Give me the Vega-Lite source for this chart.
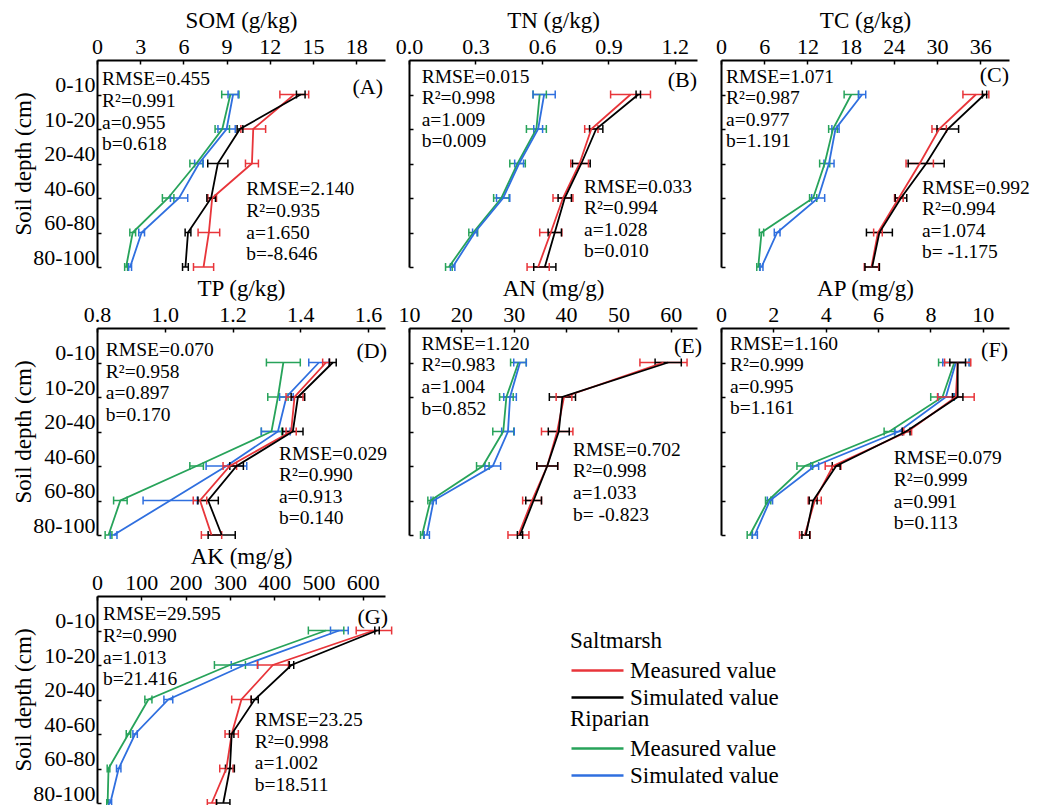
{
"$schema":"https://vega.github.io/schema/vega-lite/v6.json",
"padding":{"left":12,"top":9,"right":0,"bottom":0},
"columns":3,
"spacing":{"row":61,"column":24},
"bounds":"flush",
"datasets":{
"d":[
{"p":"SOM","s":"Riparian","t":"Measured value","i":0,"v":9.26,"lo":8.66,"hi":9.86},
{"p":"SOM","s":"Riparian","t":"Measured value","i":1,"v":8.7,"lo":8.2,"hi":9.2},
{"p":"SOM","s":"Riparian","t":"Measured value","i":2,"v":6.9,"lo":6.45,"hi":7.35},
{"p":"SOM","s":"Riparian","t":"Measured value","i":3,"v":4.94,"lo":4.54,"hi":5.34},
{"p":"SOM","s":"Riparian","t":"Measured value","i":4,"v":2.48,"lo":2.28,"hi":2.68},
{"p":"SOM","s":"Riparian","t":"Measured value","i":5,"v":2.02,"lo":1.92,"hi":2.12},
{"p":"SOM","s":"Riparian","t":"Simulated value","i":0,"v":9.45,"lo":9.1,"hi":9.8},
{"p":"SOM","s":"Riparian","t":"Simulated value","i":1,"v":9.0,"lo":8.4,"hi":9.6},
{"p":"SOM","s":"Riparian","t":"Simulated value","i":2,"v":7.08,"lo":6.78,"hi":7.38},
{"p":"SOM","s":"Riparian","t":"Simulated value","i":3,"v":5.7,"lo":5.1,"hi":6.3},
{"p":"SOM","s":"Riparian","t":"Simulated value","i":4,"v":3.1,"lo":2.9,"hi":3.3},
{"p":"SOM","s":"Riparian","t":"Simulated value","i":5,"v":2.3,"lo":2.2,"hi":2.4},
{"p":"SOM","s":"Saltmarsh","t":"Measured value","i":0,"v":13.7,"lo":12.7,"hi":14.7},
{"p":"SOM","s":"Saltmarsh","t":"Measured value","i":1,"v":10.85,"lo":9.99,"hi":11.71},
{"p":"SOM","s":"Saltmarsh","t":"Measured value","i":2,"v":10.76,"lo":10.31,"hi":11.21},
{"p":"SOM","s":"Saltmarsh","t":"Measured value","i":3,"v":8.0,"lo":7.7,"hi":8.3},
{"p":"SOM","s":"Saltmarsh","t":"Measured value","i":4,"v":7.77,"lo":7.02,"hi":8.52},
{"p":"SOM","s":"Saltmarsh","t":"Measured value","i":5,"v":7.4,"lo":6.7,"hi":8.1},
{"p":"SOM","s":"Saltmarsh","t":"Simulated value","i":0,"v":14.15,"lo":13.85,"hi":14.45},
{"p":"SOM","s":"Saltmarsh","t":"Simulated value","i":1,"v":9.93,"lo":9.73,"hi":10.13},
{"p":"SOM","s":"Saltmarsh","t":"Simulated value","i":2,"v":8.39,"lo":7.69,"hi":9.09},
{"p":"SOM","s":"Saltmarsh","t":"Simulated value","i":3,"v":7.93,"lo":7.63,"hi":8.23},
{"p":"SOM","s":"Saltmarsh","t":"Simulated value","i":4,"v":6.32,"lo":6.12,"hi":6.52},
{"p":"SOM","s":"Saltmarsh","t":"Simulated value","i":5,"v":6.14,"lo":5.94,"hi":6.34},
{"p":"TN","s":"Riparian","t":"Measured value","i":0,"v":0.59,"lo":0.56,"hi":0.62},
{"p":"TN","s":"Riparian","t":"Measured value","i":1,"v":0.575,"lo":0.53,"hi":0.62},
{"p":"TN","s":"Riparian","t":"Measured value","i":2,"v":0.49,"lo":0.455,"hi":0.525},
{"p":"TN","s":"Riparian","t":"Measured value","i":3,"v":0.417,"lo":0.382,"hi":0.452},
{"p":"TN","s":"Riparian","t":"Measured value","i":4,"v":0.29,"lo":0.27,"hi":0.31},
{"p":"TN","s":"Riparian","t":"Measured value","i":5,"v":0.18,"lo":0.165,"hi":0.195},
{"p":"TN","s":"Riparian","t":"Simulated value","i":0,"v":0.61,"lo":0.56,"hi":0.66},
{"p":"TN","s":"Riparian","t":"Simulated value","i":1,"v":0.583,"lo":0.563,"hi":0.603},
{"p":"TN","s":"Riparian","t":"Simulated value","i":2,"v":0.497,"lo":0.477,"hi":0.517},
{"p":"TN","s":"Riparian","t":"Simulated value","i":3,"v":0.425,"lo":0.395,"hi":0.455},
{"p":"TN","s":"Riparian","t":"Simulated value","i":4,"v":0.297,"lo":0.287,"hi":0.307},
{"p":"TN","s":"Riparian","t":"Simulated value","i":5,"v":0.197,"lo":0.187,"hi":0.207},
{"p":"TN","s":"Saltmarsh","t":"Measured value","i":0,"v":1.0,"lo":0.91,"hi":1.09},
{"p":"TN","s":"Saltmarsh","t":"Measured value","i":1,"v":0.823,"lo":0.793,"hi":0.853},
{"p":"TN","s":"Saltmarsh","t":"Measured value","i":2,"v":0.77,"lo":0.73,"hi":0.81},
{"p":"TN","s":"Saltmarsh","t":"Measured value","i":3,"v":0.695,"lo":0.65,"hi":0.74},
{"p":"TN","s":"Saltmarsh","t":"Measured value","i":4,"v":0.64,"lo":0.59,"hi":0.69},
{"p":"TN","s":"Saltmarsh","t":"Measured value","i":5,"v":0.583,"lo":0.533,"hi":0.633},
{"p":"TN","s":"Saltmarsh","t":"Simulated value","i":0,"v":1.035,"lo":1.025,"hi":1.045},
{"p":"TN","s":"Saltmarsh","t":"Simulated value","i":1,"v":0.845,"lo":0.815,"hi":0.875},
{"p":"TN","s":"Saltmarsh","t":"Simulated value","i":2,"v":0.778,"lo":0.738,"hi":0.818},
{"p":"TN","s":"Saltmarsh","t":"Simulated value","i":3,"v":0.703,"lo":0.673,"hi":0.733},
{"p":"TN","s":"Saltmarsh","t":"Simulated value","i":4,"v":0.658,"lo":0.628,"hi":0.688},
{"p":"TN","s":"Saltmarsh","t":"Simulated value","i":5,"v":0.613,"lo":0.563,"hi":0.663},
{"p":"TC","s":"Riparian","t":"Measured value","i":0,"v":18.1,"lo":17.1,"hi":19.1},
{"p":"TC","s":"Riparian","t":"Measured value","i":1,"v":15.55,"lo":14.95,"hi":16.15},
{"p":"TC","s":"Riparian","t":"Measured value","i":2,"v":14.4,"lo":13.7,"hi":15.1},
{"p":"TC","s":"Riparian","t":"Measured value","i":3,"v":12.8,"lo":12.3,"hi":13.3},
{"p":"TC","s":"Riparian","t":"Measured value","i":4,"v":5.63,"lo":5.33,"hi":5.93},
{"p":"TC","s":"Riparian","t":"Measured value","i":5,"v":5.17,"lo":4.97,"hi":5.37},
{"p":"TC","s":"Riparian","t":"Simulated value","i":0,"v":19.6,"lo":19.1,"hi":20.1},
{"p":"TC","s":"Riparian","t":"Simulated value","i":1,"v":15.9,"lo":15.4,"hi":16.4},
{"p":"TC","s":"Riparian","t":"Simulated value","i":2,"v":15.0,"lo":14.3,"hi":15.7},
{"p":"TC","s":"Riparian","t":"Simulated value","i":3,"v":13.5,"lo":12.6,"hi":14.4},
{"p":"TC","s":"Riparian","t":"Simulated value","i":4,"v":7.8,"lo":7.4,"hi":8.2},
{"p":"TC","s":"Riparian","t":"Simulated value","i":5,"v":5.63,"lo":5.43,"hi":5.83},
{"p":"TC","s":"Saltmarsh","t":"Measured value","i":0,"v":35.4,"lo":33.6,"hi":37.2},
{"p":"TC","s":"Saltmarsh","t":"Measured value","i":1,"v":30.3,"lo":29.3,"hi":31.3},
{"p":"TC","s":"Saltmarsh","t":"Measured value","i":2,"v":27.6,"lo":25.7,"hi":29.5},
{"p":"TC","s":"Saltmarsh","t":"Measured value","i":3,"v":24.7,"lo":24.1,"hi":25.3},
{"p":"TC","s":"Saltmarsh","t":"Measured value","i":4,"v":21.8,"lo":21.2,"hi":22.4},
{"p":"TC","s":"Saltmarsh","t":"Measured value","i":5,"v":20.9,"lo":19.9,"hi":21.9},
{"p":"TC","s":"Saltmarsh","t":"Simulated value","i":0,"v":36.6,"lo":36.3,"hi":36.9},
{"p":"TC","s":"Saltmarsh","t":"Simulated value","i":1,"v":31.5,"lo":30.0,"hi":33.0},
{"p":"TC","s":"Saltmarsh","t":"Simulated value","i":2,"v":28.5,"lo":26.0,"hi":31.0},
{"p":"TC","s":"Saltmarsh","t":"Simulated value","i":3,"v":25.0,"lo":24.2,"hi":25.8},
{"p":"TC","s":"Saltmarsh","t":"Simulated value","i":4,"v":22.0,"lo":20.2,"hi":23.8},
{"p":"TC","s":"Saltmarsh","t":"Simulated value","i":5,"v":21.0,"lo":20.0,"hi":22.0},
{"p":"TP","s":"Riparian","t":"Measured value","i":0,"v":1.35,"lo":1.3,"hi":1.4},
{"p":"TP","s":"Riparian","t":"Measured value","i":1,"v":1.334,"lo":1.304,"hi":1.364},
{"p":"TP","s":"Riparian","t":"Measured value","i":2,"v":1.315,"lo":1.285,"hi":1.345},
{"p":"TP","s":"Riparian","t":"Measured value","i":3,"v":1.094,"lo":1.074,"hi":1.114},
{"p":"TP","s":"Riparian","t":"Measured value","i":4,"v":0.869,"lo":0.849,"hi":0.889},
{"p":"TP","s":"Riparian","t":"Measured value","i":5,"v":0.834,"lo":0.824,"hi":0.844},
{"p":"TP","s":"Riparian","t":"Simulated value","i":0,"v":1.455,"lo":1.425,"hi":1.485},
{"p":"TP","s":"Riparian","t":"Simulated value","i":1,"v":1.359,"lo":1.339,"hi":1.379},
{"p":"TP","s":"Riparian","t":"Simulated value","i":2,"v":1.334,"lo":1.285,"hi":1.37},
{"p":"TP","s":"Riparian","t":"Simulated value","i":3,"v":1.182,"lo":1.122,"hi":1.242},
{"p":"TP","s":"Riparian","t":"Simulated value","i":4,"v":1.016,"lo":0.936,"hi":1.096},
{"p":"TP","s":"Riparian","t":"Simulated value","i":5,"v":0.849,"lo":0.839,"hi":0.859},
{"p":"TP","s":"Saltmarsh","t":"Measured value","i":0,"v":1.476,"lo":1.466,"hi":1.486},
{"p":"TP","s":"Saltmarsh","t":"Measured value","i":1,"v":1.383,"lo":1.358,"hi":1.408},
{"p":"TP","s":"Saltmarsh","t":"Measured value","i":2,"v":1.373,"lo":1.358,"hi":1.388},
{"p":"TP","s":"Saltmarsh","t":"Measured value","i":3,"v":1.192,"lo":1.172,"hi":1.212},
{"p":"TP","s":"Saltmarsh","t":"Measured value","i":4,"v":1.104,"lo":1.084,"hi":1.124},
{"p":"TP","s":"Saltmarsh","t":"Measured value","i":5,"v":1.138,"lo":1.108,"hi":1.168},
{"p":"TP","s":"Saltmarsh","t":"Simulated value","i":0,"v":1.496,"lo":1.486,"hi":1.506},
{"p":"TP","s":"Saltmarsh","t":"Simulated value","i":1,"v":1.393,"lo":1.373,"hi":1.413},
{"p":"TP","s":"Saltmarsh","t":"Simulated value","i":2,"v":1.378,"lo":1.348,"hi":1.408},
{"p":"TP","s":"Saltmarsh","t":"Simulated value","i":3,"v":1.212,"lo":1.192,"hi":1.232},
{"p":"TP","s":"Saltmarsh","t":"Simulated value","i":4,"v":1.128,"lo":1.098,"hi":1.158},
{"p":"TP","s":"Saltmarsh","t":"Simulated value","i":5,"v":1.168,"lo":1.128,"hi":1.208},
{"p":"AN","s":"Riparian","t":"Measured value","i":0,"v":30.9,"lo":29.4,"hi":32.4},
{"p":"AN","s":"Riparian","t":"Measured value","i":1,"v":28.6,"lo":27.3,"hi":29.9},
{"p":"AN","s":"Riparian","t":"Measured value","i":2,"v":28.0,"lo":26.0,"hi":30.0},
{"p":"AN","s":"Riparian","t":"Measured value","i":3,"v":24.1,"lo":22.9,"hi":25.3},
{"p":"AN","s":"Riparian","t":"Measured value","i":4,"v":14.1,"lo":13.6,"hi":14.6},
{"p":"AN","s":"Riparian","t":"Measured value","i":5,"v":12.5,"lo":12.2,"hi":12.8},
{"p":"AN","s":"Riparian","t":"Simulated value","i":0,"v":31.2,"lo":30.0,"hi":32.4},
{"p":"AN","s":"Riparian","t":"Simulated value","i":1,"v":29.3,"lo":28.1,"hi":30.5},
{"p":"AN","s":"Riparian","t":"Simulated value","i":2,"v":28.9,"lo":27.7,"hi":30.1},
{"p":"AN","s":"Riparian","t":"Simulated value","i":3,"v":26.0,"lo":24.5,"hi":27.5},
{"p":"AN","s":"Riparian","t":"Simulated value","i":4,"v":14.7,"lo":14.2,"hi":15.2},
{"p":"AN","s":"Riparian","t":"Simulated value","i":5,"v":13.4,"lo":12.9,"hi":13.9},
{"p":"AN","s":"Saltmarsh","t":"Measured value","i":0,"v":58.6,"lo":54.1,"hi":63.1},
{"p":"AN","s":"Saltmarsh","t":"Measured value","i":1,"v":39.6,"lo":38.1,"hi":41.1},
{"p":"AN","s":"Saltmarsh","t":"Measured value","i":2,"v":38.3,"lo":35.3,"hi":41.3},
{"p":"AN","s":"Saltmarsh","t":"Measured value","i":3,"v":36.4,"lo":34.4,"hi":38.4},
{"p":"AN","s":"Saltmarsh","t":"Measured value","i":4,"v":33.5,"lo":31.7,"hi":35.3},
{"p":"AN","s":"Saltmarsh","t":"Measured value","i":5,"v":30.9,"lo":28.9,"hi":32.9},
{"p":"AN","s":"Saltmarsh","t":"Simulated value","i":0,"v":59.5,"lo":57.0,"hi":62.0},
{"p":"AN","s":"Saltmarsh","t":"Simulated value","i":1,"v":39.3,"lo":36.8,"hi":41.8},
{"p":"AN","s":"Saltmarsh","t":"Simulated value","i":2,"v":38.6,"lo":36.6,"hi":40.6},
{"p":"AN","s":"Saltmarsh","t":"Simulated value","i":3,"v":36.4,"lo":34.4,"hi":38.4},
{"p":"AN","s":"Saltmarsh","t":"Simulated value","i":4,"v":33.8,"lo":32.3,"hi":35.3},
{"p":"AN","s":"Saltmarsh","t":"Simulated value","i":5,"v":31.2,"lo":30.7,"hi":31.7},
{"p":"AP","s":"Riparian","t":"Measured value","i":0,"v":8.91,"lo":8.31,"hi":9.51},
{"p":"AP","s":"Riparian","t":"Measured value","i":1,"v":8.46,"lo":8.01,"hi":8.91},
{"p":"AP","s":"Riparian","t":"Measured value","i":2,"v":6.43,"lo":6.23,"hi":6.63},
{"p":"AP","s":"Riparian","t":"Measured value","i":3,"v":3.2,"lo":2.9,"hi":3.5},
{"p":"AP","s":"Riparian","t":"Measured value","i":4,"v":1.8,"lo":1.7,"hi":1.9},
{"p":"AP","s":"Riparian","t":"Measured value","i":5,"v":1.1,"lo":1.0,"hi":1.2},
{"p":"AP","s":"Riparian","t":"Simulated value","i":0,"v":8.97,"lo":8.47,"hi":9.47},
{"p":"AP","s":"Riparian","t":"Simulated value","i":1,"v":8.59,"lo":8.29,"hi":8.89},
{"p":"AP","s":"Riparian","t":"Simulated value","i":2,"v":6.79,"lo":6.64,"hi":6.94},
{"p":"AP","s":"Riparian","t":"Simulated value","i":3,"v":3.58,"lo":3.43,"hi":3.73},
{"p":"AP","s":"Riparian","t":"Simulated value","i":4,"v":1.87,"lo":1.77,"hi":1.97},
{"p":"AP","s":"Riparian","t":"Simulated value","i":5,"v":1.29,"lo":1.19,"hi":1.39},
{"p":"AP","s":"Saltmarsh","t":"Measured value","i":0,"v":9.04,"lo":8.54,"hi":9.54},
{"p":"AP","s":"Saltmarsh","t":"Measured value","i":1,"v":8.97,"lo":8.27,"hi":9.67},
{"p":"AP","s":"Saltmarsh","t":"Measured value","i":2,"v":7.13,"lo":6.98,"hi":7.28},
{"p":"AP","s":"Saltmarsh","t":"Measured value","i":3,"v":4.28,"lo":3.98,"hi":4.58},
{"p":"AP","s":"Saltmarsh","t":"Measured value","i":4,"v":3.58,"lo":3.33,"hi":3.83},
{"p":"AP","s":"Saltmarsh","t":"Measured value","i":5,"v":3.2,"lo":3.0,"hi":3.4},
{"p":"AP","s":"Saltmarsh","t":"Simulated value","i":0,"v":9.04,"lo":8.74,"hi":9.34},
{"p":"AP","s":"Saltmarsh","t":"Simulated value","i":1,"v":9.04,"lo":8.84,"hi":9.24},
{"p":"AP","s":"Saltmarsh","t":"Simulated value","i":2,"v":7.07,"lo":6.92,"hi":7.22},
{"p":"AP","s":"Saltmarsh","t":"Simulated value","i":3,"v":4.4,"lo":4.25,"hi":4.55},
{"p":"AP","s":"Saltmarsh","t":"Simulated value","i":4,"v":3.52,"lo":3.37,"hi":3.67},
{"p":"AP","s":"Saltmarsh","t":"Simulated value","i":5,"v":3.24,"lo":3.09,"hi":3.39},
{"p":"AK","s":"Riparian","t":"Measured value","i":0,"v":517,"lo":477,"hi":557},
{"p":"AK","s":"Riparian","t":"Measured value","i":1,"v":300,"lo":265,"hi":335},
{"p":"AK","s":"Riparian","t":"Measured value","i":2,"v":116,"lo":108,"hi":124},
{"p":"AK","s":"Riparian","t":"Measured value","i":3,"v":71,"lo":66,"hi":76},
{"p":"AK","s":"Riparian","t":"Measured value","i":4,"v":26,"lo":23,"hi":29},
{"p":"AK","s":"Riparian","t":"Measured value","i":5,"v":24,"lo":22,"hi":26},
{"p":"AK","s":"Riparian","t":"Simulated value","i":0,"v":547,"lo":527,"hi":567},
{"p":"AK","s":"Riparian","t":"Simulated value","i":1,"v":333,"lo":303,"hi":363},
{"p":"AK","s":"Riparian","t":"Simulated value","i":2,"v":161,"lo":151,"hi":171},
{"p":"AK","s":"Riparian","t":"Simulated value","i":3,"v":86,"lo":81,"hi":91},
{"p":"AK","s":"Riparian","t":"Simulated value","i":4,"v":49,"lo":44,"hi":54},
{"p":"AK","s":"Riparian","t":"Simulated value","i":5,"v":30,"lo":27,"hi":33},
{"p":"AK","s":"Saltmarsh","t":"Measured value","i":0,"v":625,"lo":585,"hi":665},
{"p":"AK","s":"Saltmarsh","t":"Measured value","i":1,"v":397,"lo":362,"hi":432},
{"p":"AK","s":"Saltmarsh","t":"Measured value","i":2,"v":326,"lo":304,"hi":348},
{"p":"AK","s":"Saltmarsh","t":"Measured value","i":3,"v":304,"lo":289,"hi":319},
{"p":"AK","s":"Saltmarsh","t":"Measured value","i":4,"v":292,"lo":277,"hi":307},
{"p":"AK","s":"Saltmarsh","t":"Measured value","i":5,"v":259,"lo":249,"hi":269},
{"p":"AK","s":"Saltmarsh","t":"Simulated value","i":0,"v":632,"lo":627,"hi":637},
{"p":"AK","s":"Saltmarsh","t":"Simulated value","i":1,"v":439,"lo":434,"hi":444},
{"p":"AK","s":"Saltmarsh","t":"Simulated value","i":2,"v":356,"lo":348,"hi":364},
{"p":"AK","s":"Saltmarsh","t":"Simulated value","i":3,"v":304,"lo":299,"hi":309},
{"p":"AK","s":"Saltmarsh","t":"Simulated value","i":4,"v":300,"lo":290,"hi":310},
{"p":"AK","s":"Saltmarsh","t":"Simulated value","i":5,"v":285,"lo":270,"hi":300}
]
},
"concat":[
{"width":288,"height":207,"data":{"name":"d"},"transform":[{"filter":"datum.p==='SOM'"}],
"encoding":{"y":{"field":"i","type":"quantitative","scale":{"domain":[-1,5],"reverse":true,"nice":false,"zero":false},"axis":{"values":[0,1,2,3,4,5],"labelExpr":"['0-10','10-20','20-40','40-60','60-80','80-100'][datum.value]","title":"Soil depth (cm)","labelOffset":-10}},
"x":{"field":"v","type":"quantitative","scale":{"domain":[0,20],"nice":false,"zero":false},"axis":{"orient":"top","values":[0,3,6,9,12,15,18],"format":"d","title":"SOM (g/kg)"}}},
"layer":[
{"transform":[{"filter":"datum.s==='Riparian'"}],"mark":{"type":"rule","strokeWidth":1.5},"encoding":{"x":{"field":"lo","type":"quantitative","scale":{"domain":[0,20],"nice":false,"zero":false},"axis":{"orient":"top","values":[0,3,6,9,12,15,18],"format":"d","title":"SOM (g/kg)"}},"x2":{"field":"hi"},"color":{"field":"t","type":"nominal","scale":{"domain":["Simulated value","Measured value"],"range":["#2f6fdf","#27a35a"]},"legend":{"title":"Riparian","values":["Measured value","Simulated value"],"orient":"none","legendX":473,"legendY":648,"symbolType":"M-1,0H3"}}}},
{"transform":[{"filter":"datum.s==='Riparian'"},{"fold":["lo","hi"],"as":["end","xv"]}],"mark":{"type":"point","shape":"M0,-1V1","filled":false,"size":64,"strokeWidth":1.5,"opacity":1},"encoding":{"x":{"field":"xv","type":"quantitative","scale":{"domain":[0,20],"nice":false,"zero":false},"axis":{"orient":"top","values":[0,3,6,9,12,15,18],"format":"d","title":"SOM (g/kg)"}},"color":{"field":"t","type":"nominal","scale":{"domain":["Simulated value","Measured value"],"range":["#2f6fdf","#27a35a"]},"legend":{"title":"Riparian","values":["Measured value","Simulated value"],"orient":"none","legendX":473,"legendY":648,"symbolType":"M-1,0H3"}}}},
{"transform":[{"filter":"datum.s==='Riparian'"}],"mark":{"type":"line","strokeWidth":1.8},"encoding":{"order":{"field":"i","type":"quantitative"},"color":{"field":"t","type":"nominal","scale":{"domain":["Simulated value","Measured value"],"range":["#2f6fdf","#27a35a"]},"legend":{"title":"Riparian","values":["Measured value","Simulated value"],"orient":"none","legendX":473,"legendY":648,"symbolType":"M-1,0H3"}}}},
{"transform":[{"filter":"datum.s==='Saltmarsh'"}],"mark":{"type":"rule","strokeWidth":1.5},"encoding":{"x":{"field":"lo","type":"quantitative","scale":{"domain":[0,20],"nice":false,"zero":false},"axis":{"orient":"top","values":[0,3,6,9,12,15,18],"format":"d","title":"SOM (g/kg)"}},"x2":{"field":"hi"},"stroke":{"field":"t","type":"nominal","scale":{"domain":["Measured value","Simulated value"],"range":["#e8353a","#000000"]},"legend":{"title":"Saltmarsh","values":["Measured value","Simulated value"],"orient":"none","legendX":473,"legendY":570,"symbolType":"M-1,0H3"}}}},
{"transform":[{"filter":"datum.s==='Saltmarsh'"},{"fold":["lo","hi"],"as":["end","xv"]}],"mark":{"type":"point","shape":"M0,-1V1","filled":false,"size":64,"strokeWidth":1.5,"opacity":1},"encoding":{"x":{"field":"xv","type":"quantitative","scale":{"domain":[0,20],"nice":false,"zero":false},"axis":{"orient":"top","values":[0,3,6,9,12,15,18],"format":"d","title":"SOM (g/kg)"}},"stroke":{"field":"t","type":"nominal","scale":{"domain":["Measured value","Simulated value"],"range":["#e8353a","#000000"]},"legend":{"title":"Saltmarsh","values":["Measured value","Simulated value"],"orient":"none","legendX":473,"legendY":570,"symbolType":"M-1,0H3"}}}},
{"transform":[{"filter":"datum.s==='Saltmarsh'"}],"mark":{"type":"line","strokeWidth":1.8},"encoding":{"order":{"field":"i","type":"quantitative"},"stroke":{"field":"t","type":"nominal","scale":{"domain":["Measured value","Simulated value"],"range":["#e8353a","#000000"]},"legend":{"title":"Saltmarsh","values":["Measured value","Simulated value"],"orient":"none","legendX":473,"legendY":570,"symbolType":"M-1,0H3"}}}},
{"transform":[{"filter":"datum.s==='Saltmarsh' && datum.t==='Measured value' && datum.i===0"}],"mark":{"type":"text","align":"left","baseline":"top","lineHeight":21.6},"encoding":{"x":{"datum":0.35,"type":"quantitative","scale":{"domain":[0,20],"nice":false,"zero":false},"axis":{"orient":"top","values":[0,3,6,9,12,15,18],"format":"d","title":"SOM (g/kg)"}},"y":{"datum":-0.7,"type":"quantitative","scale":{"domain":[-1,5],"reverse":true,"nice":false,"zero":false},"axis":{"values":[0,1,2,3,4,5],"labelExpr":"['0-10','10-20','20-40','40-60','60-80','80-100'][datum.value]","title":"Soil depth (cm)","labelOffset":-10}},"text":{"value":["RMSE=0.455","R²=0.991","a=0.955","b=0.618"]}}},
{"transform":[{"filter":"datum.s==='Saltmarsh' && datum.t==='Measured value' && datum.i===0"}],"mark":{"type":"text","align":"left","baseline":"top","lineHeight":21.6},"encoding":{"x":{"datum":10.37,"type":"quantitative","scale":{"domain":[0,20],"nice":false,"zero":false},"axis":{"orient":"top","values":[0,3,6,9,12,15,18],"format":"d","title":"SOM (g/kg)"}},"y":{"datum":2.49,"type":"quantitative","scale":{"domain":[-1,5],"reverse":true,"nice":false,"zero":false},"axis":{"values":[0,1,2,3,4,5],"labelExpr":"['0-10','10-20','20-40','40-60','60-80','80-100'][datum.value]","title":"Soil depth (cm)","labelOffset":-10}},"text":{"value":["RMSE=2.140","R²=0.935","a=1.650","b=-8.646"]}}},
{"transform":[{"filter":"datum.s==='Saltmarsh' && datum.t==='Measured value' && datum.i===0"}],"mark":{"type":"text","align":"right","baseline":"middle","dx":-2,"fontSize":22},"encoding":{"x":{"datum":20,"type":"quantitative","scale":{"domain":[0,20],"nice":false,"zero":false},"axis":{"orient":"top","values":[0,3,6,9,12,15,18],"format":"d","title":"SOM (g/kg)"}},"y":{"datum":-0.23,"type":"quantitative","scale":{"domain":[-1,5],"reverse":true,"nice":false,"zero":false},"axis":{"values":[0,1,2,3,4,5],"labelExpr":"['0-10','10-20','20-40','40-60','60-80','80-100'][datum.value]","title":"Soil depth (cm)","labelOffset":-10}},"text":{"value":"(A)"}}}
]},
{"width":288,"height":207,"data":{"name":"d"},"transform":[{"filter":"datum.p==='TN'"}],
"encoding":{"y":{"field":"i","type":"quantitative","scale":{"domain":[-1,5],"reverse":true,"nice":false,"zero":false},"axis":{"values":[0,1,2,3,4,5],"labels":false,"title":null}},
"x":{"field":"v","type":"quantitative","scale":{"domain":[0,1.3],"nice":false,"zero":false},"axis":{"orient":"top","values":[0,0.3,0.6,0.9,1.2],"format":".1f","title":"TN (g/kg)"}}},
"layer":[
{"transform":[{"filter":"datum.s==='Riparian'"}],"mark":{"type":"rule","strokeWidth":1.5},"encoding":{"x":{"field":"lo","type":"quantitative","scale":{"domain":[0,1.3],"nice":false,"zero":false},"axis":{"orient":"top","values":[0,0.3,0.6,0.9,1.2],"format":".1f","title":"TN (g/kg)"}},"x2":{"field":"hi"},"color":{"field":"t","type":"nominal","scale":{"domain":["Simulated value","Measured value"],"range":["#2f6fdf","#27a35a"]},"legend":{"title":"Riparian","values":["Measured value","Simulated value"],"orient":"none","legendX":473,"legendY":648,"symbolType":"M-1,0H3"}}}},
{"transform":[{"filter":"datum.s==='Riparian'"},{"fold":["lo","hi"],"as":["end","xv"]}],"mark":{"type":"point","shape":"M0,-1V1","filled":false,"size":64,"strokeWidth":1.5,"opacity":1},"encoding":{"x":{"field":"xv","type":"quantitative","scale":{"domain":[0,1.3],"nice":false,"zero":false},"axis":{"orient":"top","values":[0,0.3,0.6,0.9,1.2],"format":".1f","title":"TN (g/kg)"}},"color":{"field":"t","type":"nominal","scale":{"domain":["Simulated value","Measured value"],"range":["#2f6fdf","#27a35a"]},"legend":{"title":"Riparian","values":["Measured value","Simulated value"],"orient":"none","legendX":473,"legendY":648,"symbolType":"M-1,0H3"}}}},
{"transform":[{"filter":"datum.s==='Riparian'"}],"mark":{"type":"line","strokeWidth":1.8},"encoding":{"order":{"field":"i","type":"quantitative"},"color":{"field":"t","type":"nominal","scale":{"domain":["Simulated value","Measured value"],"range":["#2f6fdf","#27a35a"]},"legend":{"title":"Riparian","values":["Measured value","Simulated value"],"orient":"none","legendX":473,"legendY":648,"symbolType":"M-1,0H3"}}}},
{"transform":[{"filter":"datum.s==='Saltmarsh'"}],"mark":{"type":"rule","strokeWidth":1.5},"encoding":{"x":{"field":"lo","type":"quantitative","scale":{"domain":[0,1.3],"nice":false,"zero":false},"axis":{"orient":"top","values":[0,0.3,0.6,0.9,1.2],"format":".1f","title":"TN (g/kg)"}},"x2":{"field":"hi"},"stroke":{"field":"t","type":"nominal","scale":{"domain":["Measured value","Simulated value"],"range":["#e8353a","#000000"]},"legend":{"title":"Saltmarsh","values":["Measured value","Simulated value"],"orient":"none","legendX":473,"legendY":570,"symbolType":"M-1,0H3"}}}},
{"transform":[{"filter":"datum.s==='Saltmarsh'"},{"fold":["lo","hi"],"as":["end","xv"]}],"mark":{"type":"point","shape":"M0,-1V1","filled":false,"size":64,"strokeWidth":1.5,"opacity":1},"encoding":{"x":{"field":"xv","type":"quantitative","scale":{"domain":[0,1.3],"nice":false,"zero":false},"axis":{"orient":"top","values":[0,0.3,0.6,0.9,1.2],"format":".1f","title":"TN (g/kg)"}},"stroke":{"field":"t","type":"nominal","scale":{"domain":["Measured value","Simulated value"],"range":["#e8353a","#000000"]},"legend":{"title":"Saltmarsh","values":["Measured value","Simulated value"],"orient":"none","legendX":473,"legendY":570,"symbolType":"M-1,0H3"}}}},
{"transform":[{"filter":"datum.s==='Saltmarsh'"}],"mark":{"type":"line","strokeWidth":1.8},"encoding":{"order":{"field":"i","type":"quantitative"},"stroke":{"field":"t","type":"nominal","scale":{"domain":["Measured value","Simulated value"],"range":["#e8353a","#000000"]},"legend":{"title":"Saltmarsh","values":["Measured value","Simulated value"],"orient":"none","legendX":473,"legendY":570,"symbolType":"M-1,0H3"}}}},
{"transform":[{"filter":"datum.s==='Saltmarsh' && datum.t==='Measured value' && datum.i===0"}],"mark":{"type":"text","align":"left","baseline":"top","lineHeight":21.6},"encoding":{"x":{"datum":0.057,"type":"quantitative","scale":{"domain":[0,1.3],"nice":false,"zero":false},"axis":{"orient":"top","values":[0,0.3,0.6,0.9,1.2],"format":".1f","title":"TN (g/kg)"}},"y":{"datum":-0.78,"type":"quantitative","scale":{"domain":[-1,5],"reverse":true,"nice":false,"zero":false},"axis":{"values":[0,1,2,3,4,5],"labels":false,"title":null}},"text":{"value":["RMSE=0.015","R²=0.998","a=1.009","b=0.009"]}}},
{"transform":[{"filter":"datum.s==='Saltmarsh' && datum.t==='Measured value' && datum.i===0"}],"mark":{"type":"text","align":"left","baseline":"top","lineHeight":21.6},"encoding":{"x":{"datum":0.79,"type":"quantitative","scale":{"domain":[0,1.3],"nice":false,"zero":false},"axis":{"orient":"top","values":[0,0.3,0.6,0.9,1.2],"format":".1f","title":"TN (g/kg)"}},"y":{"datum":2.41,"type":"quantitative","scale":{"domain":[-1,5],"reverse":true,"nice":false,"zero":false},"axis":{"values":[0,1,2,3,4,5],"labels":false,"title":null}},"text":{"value":["RMSE=0.033","R²=0.994","a=1.028","b=0.010"]}}},
{"transform":[{"filter":"datum.s==='Saltmarsh' && datum.t==='Measured value' && datum.i===0"}],"mark":{"type":"text","align":"right","baseline":"middle","dx":0,"fontSize":22},"encoding":{"x":{"datum":1.3,"type":"quantitative","scale":{"domain":[0,1.3],"nice":false,"zero":false},"axis":{"orient":"top","values":[0,0.3,0.6,0.9,1.2],"format":".1f","title":"TN (g/kg)"}},"y":{"datum":-0.43,"type":"quantitative","scale":{"domain":[-1,5],"reverse":true,"nice":false,"zero":false},"axis":{"values":[0,1,2,3,4,5],"labels":false,"title":null}},"text":{"value":"(B)"}}}
]},
{"width":288,"height":207,"data":{"name":"d"},"transform":[{"filter":"datum.p==='TC'"}],
"encoding":{"y":{"field":"i","type":"quantitative","scale":{"domain":[-1,5],"reverse":true,"nice":false,"zero":false},"axis":{"values":[0,1,2,3,4,5],"labels":false,"title":null}},
"x":{"field":"v","type":"quantitative","scale":{"domain":[0,40],"nice":false,"zero":false},"axis":{"orient":"top","values":[0,6,12,18,24,30,36],"format":"d","title":"TC (g/kg)"}}},
"layer":[
{"transform":[{"filter":"datum.s==='Riparian'"}],"mark":{"type":"rule","strokeWidth":1.5},"encoding":{"x":{"field":"lo","type":"quantitative","scale":{"domain":[0,40],"nice":false,"zero":false},"axis":{"orient":"top","values":[0,6,12,18,24,30,36],"format":"d","title":"TC (g/kg)"}},"x2":{"field":"hi"},"color":{"field":"t","type":"nominal","scale":{"domain":["Simulated value","Measured value"],"range":["#2f6fdf","#27a35a"]},"legend":{"title":"Riparian","values":["Measured value","Simulated value"],"orient":"none","legendX":473,"legendY":648,"symbolType":"M-1,0H3"}}}},
{"transform":[{"filter":"datum.s==='Riparian'"},{"fold":["lo","hi"],"as":["end","xv"]}],"mark":{"type":"point","shape":"M0,-1V1","filled":false,"size":64,"strokeWidth":1.5,"opacity":1},"encoding":{"x":{"field":"xv","type":"quantitative","scale":{"domain":[0,40],"nice":false,"zero":false},"axis":{"orient":"top","values":[0,6,12,18,24,30,36],"format":"d","title":"TC (g/kg)"}},"color":{"field":"t","type":"nominal","scale":{"domain":["Simulated value","Measured value"],"range":["#2f6fdf","#27a35a"]},"legend":{"title":"Riparian","values":["Measured value","Simulated value"],"orient":"none","legendX":473,"legendY":648,"symbolType":"M-1,0H3"}}}},
{"transform":[{"filter":"datum.s==='Riparian'"}],"mark":{"type":"line","strokeWidth":1.8},"encoding":{"order":{"field":"i","type":"quantitative"},"color":{"field":"t","type":"nominal","scale":{"domain":["Simulated value","Measured value"],"range":["#2f6fdf","#27a35a"]},"legend":{"title":"Riparian","values":["Measured value","Simulated value"],"orient":"none","legendX":473,"legendY":648,"symbolType":"M-1,0H3"}}}},
{"transform":[{"filter":"datum.s==='Saltmarsh'"}],"mark":{"type":"rule","strokeWidth":1.5},"encoding":{"x":{"field":"lo","type":"quantitative","scale":{"domain":[0,40],"nice":false,"zero":false},"axis":{"orient":"top","values":[0,6,12,18,24,30,36],"format":"d","title":"TC (g/kg)"}},"x2":{"field":"hi"},"stroke":{"field":"t","type":"nominal","scale":{"domain":["Measured value","Simulated value"],"range":["#e8353a","#000000"]},"legend":{"title":"Saltmarsh","values":["Measured value","Simulated value"],"orient":"none","legendX":473,"legendY":570,"symbolType":"M-1,0H3"}}}},
{"transform":[{"filter":"datum.s==='Saltmarsh'"},{"fold":["lo","hi"],"as":["end","xv"]}],"mark":{"type":"point","shape":"M0,-1V1","filled":false,"size":64,"strokeWidth":1.5,"opacity":1},"encoding":{"x":{"field":"xv","type":"quantitative","scale":{"domain":[0,40],"nice":false,"zero":false},"axis":{"orient":"top","values":[0,6,12,18,24,30,36],"format":"d","title":"TC (g/kg)"}},"stroke":{"field":"t","type":"nominal","scale":{"domain":["Measured value","Simulated value"],"range":["#e8353a","#000000"]},"legend":{"title":"Saltmarsh","values":["Measured value","Simulated value"],"orient":"none","legendX":473,"legendY":570,"symbolType":"M-1,0H3"}}}},
{"transform":[{"filter":"datum.s==='Saltmarsh'"}],"mark":{"type":"line","strokeWidth":1.8},"encoding":{"order":{"field":"i","type":"quantitative"},"stroke":{"field":"t","type":"nominal","scale":{"domain":["Measured value","Simulated value"],"range":["#e8353a","#000000"]},"legend":{"title":"Saltmarsh","values":["Measured value","Simulated value"],"orient":"none","legendX":473,"legendY":570,"symbolType":"M-1,0H3"}}}},
{"transform":[{"filter":"datum.s==='Saltmarsh' && datum.t==='Measured value' && datum.i===0"}],"mark":{"type":"text","align":"left","baseline":"top","lineHeight":21.6},"encoding":{"x":{"datum":0.7,"type":"quantitative","scale":{"domain":[0,40],"nice":false,"zero":false},"axis":{"orient":"top","values":[0,6,12,18,24,30,36],"format":"d","title":"TC (g/kg)"}},"y":{"datum":-0.78,"type":"quantitative","scale":{"domain":[-1,5],"reverse":true,"nice":false,"zero":false},"axis":{"values":[0,1,2,3,4,5],"labels":false,"title":null}},"text":{"value":["RMSE=1.071","R²=0.987","a=0.977","b=1.191"]}}},
{"transform":[{"filter":"datum.s==='Saltmarsh' && datum.t==='Measured value' && datum.i===0"}],"mark":{"type":"text","align":"left","baseline":"top","lineHeight":21.6},"encoding":{"x":{"datum":27.9,"type":"quantitative","scale":{"domain":[0,40],"nice":false,"zero":false},"axis":{"orient":"top","values":[0,6,12,18,24,30,36],"format":"d","title":"TC (g/kg)"}},"y":{"datum":2.44,"type":"quantitative","scale":{"domain":[-1,5],"reverse":true,"nice":false,"zero":false},"axis":{"values":[0,1,2,3,4,5],"labels":false,"title":null}},"text":{"value":["RMSE=0.992","R²=0.994","a=1.074","b= -1.175"]}}},
{"transform":[{"filter":"datum.s==='Saltmarsh' && datum.t==='Measured value' && datum.i===0"}],"mark":{"type":"text","align":"right","baseline":"middle","dx":0,"fontSize":22},"encoding":{"x":{"datum":40,"type":"quantitative","scale":{"domain":[0,40],"nice":false,"zero":false},"axis":{"orient":"top","values":[0,6,12,18,24,30,36],"format":"d","title":"TC (g/kg)"}},"y":{"datum":-0.57,"type":"quantitative","scale":{"domain":[-1,5],"reverse":true,"nice":false,"zero":false},"axis":{"values":[0,1,2,3,4,5],"labels":false,"title":null}},"text":{"value":"(C)"}}}
]},
{"width":288,"height":207,"data":{"name":"d"},"transform":[{"filter":"datum.p==='TP'"}],
"encoding":{"y":{"field":"i","type":"quantitative","scale":{"domain":[-1,5],"reverse":true,"nice":false,"zero":false},"axis":{"values":[0,1,2,3,4,5],"labelExpr":"['0-10','10-20','20-40','40-60','60-80','80-100'][datum.value]","title":"Soil depth (cm)","labelOffset":-10}},
"x":{"field":"v","type":"quantitative","scale":{"domain":[0.8,1.65],"nice":false,"zero":false},"axis":{"orient":"top","values":[0.8,1.0,1.2,1.4,1.6],"format":".1f","title":"TP (g/kg)"}}},
"layer":[
{"transform":[{"filter":"datum.s==='Riparian'"}],"mark":{"type":"rule","strokeWidth":1.5},"encoding":{"x":{"field":"lo","type":"quantitative","scale":{"domain":[0.8,1.65],"nice":false,"zero":false},"axis":{"orient":"top","values":[0.8,1.0,1.2,1.4,1.6],"format":".1f","title":"TP (g/kg)"}},"x2":{"field":"hi"},"color":{"field":"t","type":"nominal","scale":{"domain":["Simulated value","Measured value"],"range":["#2f6fdf","#27a35a"]},"legend":{"title":"Riparian","values":["Measured value","Simulated value"],"orient":"none","legendX":473,"legendY":648,"symbolType":"M-1,0H3"}}}},
{"transform":[{"filter":"datum.s==='Riparian'"},{"fold":["lo","hi"],"as":["end","xv"]}],"mark":{"type":"point","shape":"M0,-1V1","filled":false,"size":64,"strokeWidth":1.5,"opacity":1},"encoding":{"x":{"field":"xv","type":"quantitative","scale":{"domain":[0.8,1.65],"nice":false,"zero":false},"axis":{"orient":"top","values":[0.8,1.0,1.2,1.4,1.6],"format":".1f","title":"TP (g/kg)"}},"color":{"field":"t","type":"nominal","scale":{"domain":["Simulated value","Measured value"],"range":["#2f6fdf","#27a35a"]},"legend":{"title":"Riparian","values":["Measured value","Simulated value"],"orient":"none","legendX":473,"legendY":648,"symbolType":"M-1,0H3"}}}},
{"transform":[{"filter":"datum.s==='Riparian'"}],"mark":{"type":"line","strokeWidth":1.8},"encoding":{"order":{"field":"i","type":"quantitative"},"color":{"field":"t","type":"nominal","scale":{"domain":["Simulated value","Measured value"],"range":["#2f6fdf","#27a35a"]},"legend":{"title":"Riparian","values":["Measured value","Simulated value"],"orient":"none","legendX":473,"legendY":648,"symbolType":"M-1,0H3"}}}},
{"transform":[{"filter":"datum.s==='Saltmarsh'"}],"mark":{"type":"rule","strokeWidth":1.5},"encoding":{"x":{"field":"lo","type":"quantitative","scale":{"domain":[0.8,1.65],"nice":false,"zero":false},"axis":{"orient":"top","values":[0.8,1.0,1.2,1.4,1.6],"format":".1f","title":"TP (g/kg)"}},"x2":{"field":"hi"},"stroke":{"field":"t","type":"nominal","scale":{"domain":["Measured value","Simulated value"],"range":["#e8353a","#000000"]},"legend":{"title":"Saltmarsh","values":["Measured value","Simulated value"],"orient":"none","legendX":473,"legendY":570,"symbolType":"M-1,0H3"}}}},
{"transform":[{"filter":"datum.s==='Saltmarsh'"},{"fold":["lo","hi"],"as":["end","xv"]}],"mark":{"type":"point","shape":"M0,-1V1","filled":false,"size":64,"strokeWidth":1.5,"opacity":1},"encoding":{"x":{"field":"xv","type":"quantitative","scale":{"domain":[0.8,1.65],"nice":false,"zero":false},"axis":{"orient":"top","values":[0.8,1.0,1.2,1.4,1.6],"format":".1f","title":"TP (g/kg)"}},"stroke":{"field":"t","type":"nominal","scale":{"domain":["Measured value","Simulated value"],"range":["#e8353a","#000000"]},"legend":{"title":"Saltmarsh","values":["Measured value","Simulated value"],"orient":"none","legendX":473,"legendY":570,"symbolType":"M-1,0H3"}}}},
{"transform":[{"filter":"datum.s==='Saltmarsh'"}],"mark":{"type":"line","strokeWidth":1.8},"encoding":{"order":{"field":"i","type":"quantitative"},"stroke":{"field":"t","type":"nominal","scale":{"domain":["Measured value","Simulated value"],"range":["#e8353a","#000000"]},"legend":{"title":"Saltmarsh","values":["Measured value","Simulated value"],"orient":"none","legendX":473,"legendY":570,"symbolType":"M-1,0H3"}}}},
{"transform":[{"filter":"datum.s==='Saltmarsh' && datum.t==='Measured value' && datum.i===0"}],"mark":{"type":"text","align":"left","baseline":"top","lineHeight":21.6},"encoding":{"x":{"datum":0.826,"type":"quantitative","scale":{"domain":[0.8,1.65],"nice":false,"zero":false},"axis":{"orient":"top","values":[0.8,1.0,1.2,1.4,1.6],"format":".1f","title":"TP (g/kg)"}},"y":{"datum":-0.62,"type":"quantitative","scale":{"domain":[-1,5],"reverse":true,"nice":false,"zero":false},"axis":{"values":[0,1,2,3,4,5],"labelExpr":"['0-10','10-20','20-40','40-60','60-80','80-100'][datum.value]","title":"Soil depth (cm)","labelOffset":-10}},"text":{"value":["RMSE=0.070","R²=0.958","a=0.897","b=0.170"]}}},
{"transform":[{"filter":"datum.s==='Saltmarsh' && datum.t==='Measured value' && datum.i===0"}],"mark":{"type":"text","align":"left","baseline":"top","lineHeight":21.6},"encoding":{"x":{"datum":1.337,"type":"quantitative","scale":{"domain":[0.8,1.65],"nice":false,"zero":false},"axis":{"orient":"top","values":[0.8,1.0,1.2,1.4,1.6],"format":".1f","title":"TP (g/kg)"}},"y":{"datum":2.38,"type":"quantitative","scale":{"domain":[-1,5],"reverse":true,"nice":false,"zero":false},"axis":{"values":[0,1,2,3,4,5],"labelExpr":"['0-10','10-20','20-40','40-60','60-80','80-100'][datum.value]","title":"Soil depth (cm)","labelOffset":-10}},"text":{"value":["RMSE=0.029","R²=0.990","a=0.913","b=0.140"]}}},
{"transform":[{"filter":"datum.s==='Saltmarsh' && datum.t==='Measured value' && datum.i===0"}],"mark":{"type":"text","align":"right","baseline":"middle","dx":2,"fontSize":22},"encoding":{"x":{"datum":1.65,"type":"quantitative","scale":{"domain":[0.8,1.65],"nice":false,"zero":false},"axis":{"orient":"top","values":[0.8,1.0,1.2,1.4,1.6],"format":".1f","title":"TP (g/kg)"}},"y":{"datum":-0.32,"type":"quantitative","scale":{"domain":[-1,5],"reverse":true,"nice":false,"zero":false},"axis":{"values":[0,1,2,3,4,5],"labelExpr":"['0-10','10-20','20-40','40-60','60-80','80-100'][datum.value]","title":"Soil depth (cm)","labelOffset":-10}},"text":{"value":"(D)"}}}
]},
{"width":288,"height":207,"data":{"name":"d"},"transform":[{"filter":"datum.p==='AN'"}],
"encoding":{"y":{"field":"i","type":"quantitative","scale":{"domain":[-1,5],"reverse":true,"nice":false,"zero":false},"axis":{"values":[0,1,2,3,4,5],"labels":false,"title":null}},
"x":{"field":"v","type":"quantitative","scale":{"domain":[10,65],"nice":false,"zero":false},"axis":{"orient":"top","values":[10,20,30,40,50,60],"format":"d","title":"AN (mg/g)"}}},
"layer":[
{"transform":[{"filter":"datum.s==='Riparian'"}],"mark":{"type":"rule","strokeWidth":1.5},"encoding":{"x":{"field":"lo","type":"quantitative","scale":{"domain":[10,65],"nice":false,"zero":false},"axis":{"orient":"top","values":[10,20,30,40,50,60],"format":"d","title":"AN (mg/g)"}},"x2":{"field":"hi"},"color":{"field":"t","type":"nominal","scale":{"domain":["Simulated value","Measured value"],"range":["#2f6fdf","#27a35a"]},"legend":{"title":"Riparian","values":["Measured value","Simulated value"],"orient":"none","legendX":473,"legendY":648,"symbolType":"M-1,0H3"}}}},
{"transform":[{"filter":"datum.s==='Riparian'"},{"fold":["lo","hi"],"as":["end","xv"]}],"mark":{"type":"point","shape":"M0,-1V1","filled":false,"size":64,"strokeWidth":1.5,"opacity":1},"encoding":{"x":{"field":"xv","type":"quantitative","scale":{"domain":[10,65],"nice":false,"zero":false},"axis":{"orient":"top","values":[10,20,30,40,50,60],"format":"d","title":"AN (mg/g)"}},"color":{"field":"t","type":"nominal","scale":{"domain":["Simulated value","Measured value"],"range":["#2f6fdf","#27a35a"]},"legend":{"title":"Riparian","values":["Measured value","Simulated value"],"orient":"none","legendX":473,"legendY":648,"symbolType":"M-1,0H3"}}}},
{"transform":[{"filter":"datum.s==='Riparian'"}],"mark":{"type":"line","strokeWidth":1.8},"encoding":{"order":{"field":"i","type":"quantitative"},"color":{"field":"t","type":"nominal","scale":{"domain":["Simulated value","Measured value"],"range":["#2f6fdf","#27a35a"]},"legend":{"title":"Riparian","values":["Measured value","Simulated value"],"orient":"none","legendX":473,"legendY":648,"symbolType":"M-1,0H3"}}}},
{"transform":[{"filter":"datum.s==='Saltmarsh'"}],"mark":{"type":"rule","strokeWidth":1.5},"encoding":{"x":{"field":"lo","type":"quantitative","scale":{"domain":[10,65],"nice":false,"zero":false},"axis":{"orient":"top","values":[10,20,30,40,50,60],"format":"d","title":"AN (mg/g)"}},"x2":{"field":"hi"},"stroke":{"field":"t","type":"nominal","scale":{"domain":["Measured value","Simulated value"],"range":["#e8353a","#000000"]},"legend":{"title":"Saltmarsh","values":["Measured value","Simulated value"],"orient":"none","legendX":473,"legendY":570,"symbolType":"M-1,0H3"}}}},
{"transform":[{"filter":"datum.s==='Saltmarsh'"},{"fold":["lo","hi"],"as":["end","xv"]}],"mark":{"type":"point","shape":"M0,-1V1","filled":false,"size":64,"strokeWidth":1.5,"opacity":1},"encoding":{"x":{"field":"xv","type":"quantitative","scale":{"domain":[10,65],"nice":false,"zero":false},"axis":{"orient":"top","values":[10,20,30,40,50,60],"format":"d","title":"AN (mg/g)"}},"stroke":{"field":"t","type":"nominal","scale":{"domain":["Measured value","Simulated value"],"range":["#e8353a","#000000"]},"legend":{"title":"Saltmarsh","values":["Measured value","Simulated value"],"orient":"none","legendX":473,"legendY":570,"symbolType":"M-1,0H3"}}}},
{"transform":[{"filter":"datum.s==='Saltmarsh'"}],"mark":{"type":"line","strokeWidth":1.8},"encoding":{"order":{"field":"i","type":"quantitative"},"stroke":{"field":"t","type":"nominal","scale":{"domain":["Measured value","Simulated value"],"range":["#e8353a","#000000"]},"legend":{"title":"Saltmarsh","values":["Measured value","Simulated value"],"orient":"none","legendX":473,"legendY":570,"symbolType":"M-1,0H3"}}}},
{"transform":[{"filter":"datum.s==='Saltmarsh' && datum.t==='Measured value' && datum.i===0"}],"mark":{"type":"text","align":"left","baseline":"top","lineHeight":21.6},"encoding":{"x":{"datum":12.4,"type":"quantitative","scale":{"domain":[10,65],"nice":false,"zero":false},"axis":{"orient":"top","values":[10,20,30,40,50,60],"format":"d","title":"AN (mg/g)"}},"y":{"datum":-0.8,"type":"quantitative","scale":{"domain":[-1,5],"reverse":true,"nice":false,"zero":false},"axis":{"values":[0,1,2,3,4,5],"labels":false,"title":null}},"text":{"value":["RMSE=1.120","R²=0.983","a=1.004","b=0.852"]}}},
{"transform":[{"filter":"datum.s==='Saltmarsh' && datum.t==='Measured value' && datum.i===0"}],"mark":{"type":"text","align":"left","baseline":"top","lineHeight":21.6},"encoding":{"x":{"datum":41.3,"type":"quantitative","scale":{"domain":[10,65],"nice":false,"zero":false},"axis":{"orient":"top","values":[10,20,30,40,50,60],"format":"d","title":"AN (mg/g)"}},"y":{"datum":2.27,"type":"quantitative","scale":{"domain":[-1,5],"reverse":true,"nice":false,"zero":false},"axis":{"values":[0,1,2,3,4,5],"labels":false,"title":null}},"text":{"value":["RMSE=0.702","R²=0.998","a=1.033","b= -0.823"]}}},
{"transform":[{"filter":"datum.s==='Saltmarsh' && datum.t==='Measured value' && datum.i===0"}],"mark":{"type":"text","align":"right","baseline":"middle","dx":5,"fontSize":22},"encoding":{"x":{"datum":65,"type":"quantitative","scale":{"domain":[10,65],"nice":false,"zero":false},"axis":{"orient":"top","values":[10,20,30,40,50,60],"format":"d","title":"AN (mg/g)"}},"y":{"datum":-0.47,"type":"quantitative","scale":{"domain":[-1,5],"reverse":true,"nice":false,"zero":false},"axis":{"values":[0,1,2,3,4,5],"labels":false,"title":null}},"text":{"value":"(E)"}}}
]},
{"width":288,"height":207,"data":{"name":"d"},"transform":[{"filter":"datum.p==='AP'"}],
"encoding":{"y":{"field":"i","type":"quantitative","scale":{"domain":[-1,5],"reverse":true,"nice":false,"zero":false},"axis":{"values":[0,1,2,3,4,5],"labels":false,"title":null}},
"x":{"field":"v","type":"quantitative","scale":{"domain":[0,11],"nice":false,"zero":false},"axis":{"orient":"top","values":[0,2,4,6,8,10],"format":"d","title":"AP (mg/g)"}}},
"layer":[
{"transform":[{"filter":"datum.s==='Riparian'"}],"mark":{"type":"rule","strokeWidth":1.5},"encoding":{"x":{"field":"lo","type":"quantitative","scale":{"domain":[0,11],"nice":false,"zero":false},"axis":{"orient":"top","values":[0,2,4,6,8,10],"format":"d","title":"AP (mg/g)"}},"x2":{"field":"hi"},"color":{"field":"t","type":"nominal","scale":{"domain":["Simulated value","Measured value"],"range":["#2f6fdf","#27a35a"]},"legend":{"title":"Riparian","values":["Measured value","Simulated value"],"orient":"none","legendX":473,"legendY":648,"symbolType":"M-1,0H3"}}}},
{"transform":[{"filter":"datum.s==='Riparian'"},{"fold":["lo","hi"],"as":["end","xv"]}],"mark":{"type":"point","shape":"M0,-1V1","filled":false,"size":64,"strokeWidth":1.5,"opacity":1},"encoding":{"x":{"field":"xv","type":"quantitative","scale":{"domain":[0,11],"nice":false,"zero":false},"axis":{"orient":"top","values":[0,2,4,6,8,10],"format":"d","title":"AP (mg/g)"}},"color":{"field":"t","type":"nominal","scale":{"domain":["Simulated value","Measured value"],"range":["#2f6fdf","#27a35a"]},"legend":{"title":"Riparian","values":["Measured value","Simulated value"],"orient":"none","legendX":473,"legendY":648,"symbolType":"M-1,0H3"}}}},
{"transform":[{"filter":"datum.s==='Riparian'"}],"mark":{"type":"line","strokeWidth":1.8},"encoding":{"order":{"field":"i","type":"quantitative"},"color":{"field":"t","type":"nominal","scale":{"domain":["Simulated value","Measured value"],"range":["#2f6fdf","#27a35a"]},"legend":{"title":"Riparian","values":["Measured value","Simulated value"],"orient":"none","legendX":473,"legendY":648,"symbolType":"M-1,0H3"}}}},
{"transform":[{"filter":"datum.s==='Saltmarsh'"}],"mark":{"type":"rule","strokeWidth":1.5},"encoding":{"x":{"field":"lo","type":"quantitative","scale":{"domain":[0,11],"nice":false,"zero":false},"axis":{"orient":"top","values":[0,2,4,6,8,10],"format":"d","title":"AP (mg/g)"}},"x2":{"field":"hi"},"stroke":{"field":"t","type":"nominal","scale":{"domain":["Measured value","Simulated value"],"range":["#e8353a","#000000"]},"legend":{"title":"Saltmarsh","values":["Measured value","Simulated value"],"orient":"none","legendX":473,"legendY":570,"symbolType":"M-1,0H3"}}}},
{"transform":[{"filter":"datum.s==='Saltmarsh'"},{"fold":["lo","hi"],"as":["end","xv"]}],"mark":{"type":"point","shape":"M0,-1V1","filled":false,"size":64,"strokeWidth":1.5,"opacity":1},"encoding":{"x":{"field":"xv","type":"quantitative","scale":{"domain":[0,11],"nice":false,"zero":false},"axis":{"orient":"top","values":[0,2,4,6,8,10],"format":"d","title":"AP (mg/g)"}},"stroke":{"field":"t","type":"nominal","scale":{"domain":["Measured value","Simulated value"],"range":["#e8353a","#000000"]},"legend":{"title":"Saltmarsh","values":["Measured value","Simulated value"],"orient":"none","legendX":473,"legendY":570,"symbolType":"M-1,0H3"}}}},
{"transform":[{"filter":"datum.s==='Saltmarsh'"}],"mark":{"type":"line","strokeWidth":1.8},"encoding":{"order":{"field":"i","type":"quantitative"},"stroke":{"field":"t","type":"nominal","scale":{"domain":["Measured value","Simulated value"],"range":["#e8353a","#000000"]},"legend":{"title":"Saltmarsh","values":["Measured value","Simulated value"],"orient":"none","legendX":473,"legendY":570,"symbolType":"M-1,0H3"}}}},
{"transform":[{"filter":"datum.s==='Saltmarsh' && datum.t==='Measured value' && datum.i===0"}],"mark":{"type":"text","align":"left","baseline":"top","lineHeight":21.6},"encoding":{"x":{"datum":0.34,"type":"quantitative","scale":{"domain":[0,11],"nice":false,"zero":false},"axis":{"orient":"top","values":[0,2,4,6,8,10],"format":"d","title":"AP (mg/g)"}},"y":{"datum":-0.81,"type":"quantitative","scale":{"domain":[-1,5],"reverse":true,"nice":false,"zero":false},"axis":{"values":[0,1,2,3,4,5],"labels":false,"title":null}},"text":{"value":["RMSE=1.160","R²=0.999","a=0.995","b=1.161"]}}},
{"transform":[{"filter":"datum.s==='Saltmarsh' && datum.t==='Measured value' && datum.i===0"}],"mark":{"type":"text","align":"left","baseline":"top","lineHeight":21.6},"encoding":{"x":{"datum":6.6,"type":"quantitative","scale":{"domain":[0,11],"nice":false,"zero":false},"axis":{"orient":"top","values":[0,2,4,6,8,10],"format":"d","title":"AP (mg/g)"}},"y":{"datum":2.52,"type":"quantitative","scale":{"domain":[-1,5],"reverse":true,"nice":false,"zero":false},"axis":{"values":[0,1,2,3,4,5],"labels":false,"title":null}},"text":{"value":["RMSE=0.079","R²=0.999","a=0.991","b=0.113"]}}},
{"transform":[{"filter":"datum.s==='Saltmarsh' && datum.t==='Measured value' && datum.i===0"}],"mark":{"type":"text","align":"right","baseline":"middle","dx":-1,"fontSize":22},"encoding":{"x":{"datum":11,"type":"quantitative","scale":{"domain":[0,11],"nice":false,"zero":false},"axis":{"orient":"top","values":[0,2,4,6,8,10],"format":"d","title":"AP (mg/g)"}},"y":{"datum":-0.36,"type":"quantitative","scale":{"domain":[-1,5],"reverse":true,"nice":false,"zero":false},"axis":{"values":[0,1,2,3,4,5],"labels":false,"title":null}},"text":{"value":"(F)"}}}
]},
{"width":288,"height":207,"data":{"name":"d"},"transform":[{"filter":"datum.p==='AK'"}],
"encoding":{"y":{"field":"i","type":"quantitative","scale":{"domain":[-1,5],"reverse":true,"nice":false,"zero":false},"axis":{"values":[0,1,2,3,4,5],"labelExpr":"['0-10','10-20','20-40','40-60','60-80','80-100'][datum.value]","title":"Soil depth (cm)","labelOffset":-10}},
"x":{"field":"v","type":"quantitative","scale":{"domain":[0,650],"nice":false,"zero":false},"axis":{"orient":"top","values":[0,100,200,300,400,500,600],"format":"d","title":"AK (mg/g)"}}},
"layer":[
{"transform":[{"filter":"datum.s==='Riparian'"}],"mark":{"type":"rule","strokeWidth":1.5},"encoding":{"x":{"field":"lo","type":"quantitative","scale":{"domain":[0,650],"nice":false,"zero":false},"axis":{"orient":"top","values":[0,100,200,300,400,500,600],"format":"d","title":"AK (mg/g)"}},"x2":{"field":"hi"},"color":{"field":"t","type":"nominal","scale":{"domain":["Simulated value","Measured value"],"range":["#2f6fdf","#27a35a"]},"legend":{"title":"Riparian","values":["Measured value","Simulated value"],"orient":"none","legendX":473,"legendY":648,"symbolType":"M-1,0H3"}}}},
{"transform":[{"filter":"datum.s==='Riparian'"},{"fold":["lo","hi"],"as":["end","xv"]}],"mark":{"type":"point","shape":"M0,-1V1","filled":false,"size":64,"strokeWidth":1.5,"opacity":1},"encoding":{"x":{"field":"xv","type":"quantitative","scale":{"domain":[0,650],"nice":false,"zero":false},"axis":{"orient":"top","values":[0,100,200,300,400,500,600],"format":"d","title":"AK (mg/g)"}},"color":{"field":"t","type":"nominal","scale":{"domain":["Simulated value","Measured value"],"range":["#2f6fdf","#27a35a"]},"legend":{"title":"Riparian","values":["Measured value","Simulated value"],"orient":"none","legendX":473,"legendY":648,"symbolType":"M-1,0H3"}}}},
{"transform":[{"filter":"datum.s==='Riparian'"}],"mark":{"type":"line","strokeWidth":1.8},"encoding":{"order":{"field":"i","type":"quantitative"},"color":{"field":"t","type":"nominal","scale":{"domain":["Simulated value","Measured value"],"range":["#2f6fdf","#27a35a"]},"legend":{"title":"Riparian","values":["Measured value","Simulated value"],"orient":"none","legendX":473,"legendY":648,"symbolType":"M-1,0H3"}}}},
{"transform":[{"filter":"datum.s==='Saltmarsh'"}],"mark":{"type":"rule","strokeWidth":1.5},"encoding":{"x":{"field":"lo","type":"quantitative","scale":{"domain":[0,650],"nice":false,"zero":false},"axis":{"orient":"top","values":[0,100,200,300,400,500,600],"format":"d","title":"AK (mg/g)"}},"x2":{"field":"hi"},"stroke":{"field":"t","type":"nominal","scale":{"domain":["Measured value","Simulated value"],"range":["#e8353a","#000000"]},"legend":{"title":"Saltmarsh","values":["Measured value","Simulated value"],"orient":"none","legendX":473,"legendY":570,"symbolType":"M-1,0H3"}}}},
{"transform":[{"filter":"datum.s==='Saltmarsh'"},{"fold":["lo","hi"],"as":["end","xv"]}],"mark":{"type":"point","shape":"M0,-1V1","filled":false,"size":64,"strokeWidth":1.5,"opacity":1},"encoding":{"x":{"field":"xv","type":"quantitative","scale":{"domain":[0,650],"nice":false,"zero":false},"axis":{"orient":"top","values":[0,100,200,300,400,500,600],"format":"d","title":"AK (mg/g)"}},"stroke":{"field":"t","type":"nominal","scale":{"domain":["Measured value","Simulated value"],"range":["#e8353a","#000000"]},"legend":{"title":"Saltmarsh","values":["Measured value","Simulated value"],"orient":"none","legendX":473,"legendY":570,"symbolType":"M-1,0H3"}}}},
{"transform":[{"filter":"datum.s==='Saltmarsh'"}],"mark":{"type":"line","strokeWidth":1.8},"encoding":{"order":{"field":"i","type":"quantitative"},"stroke":{"field":"t","type":"nominal","scale":{"domain":["Measured value","Simulated value"],"range":["#e8353a","#000000"]},"legend":{"title":"Saltmarsh","values":["Measured value","Simulated value"],"orient":"none","legendX":473,"legendY":570,"symbolType":"M-1,0H3"}}}},
{"transform":[{"filter":"datum.s==='Saltmarsh' && datum.t==='Measured value' && datum.i===0"}],"mark":{"type":"text","align":"left","baseline":"top","lineHeight":21.6},"encoding":{"x":{"datum":13.5,"type":"quantitative","scale":{"domain":[0,650],"nice":false,"zero":false},"axis":{"orient":"top","values":[0,100,200,300,400,500,600],"format":"d","title":"AK (mg/g)"}},"y":{"datum":-0.73,"type":"quantitative","scale":{"domain":[-1,5],"reverse":true,"nice":false,"zero":false},"axis":{"values":[0,1,2,3,4,5],"labelExpr":"['0-10','10-20','20-40','40-60','60-80','80-100'][datum.value]","title":"Soil depth (cm)","labelOffset":-10}},"text":{"value":["RMSE=29.595","R²=0.990","a=1.013","b=21.416"]}}},
{"transform":[{"filter":"datum.s==='Saltmarsh' && datum.t==='Measured value' && datum.i===0"}],"mark":{"type":"text","align":"left","baseline":"top","lineHeight":21.6},"encoding":{"x":{"datum":356,"type":"quantitative","scale":{"domain":[0,650],"nice":false,"zero":false},"axis":{"orient":"top","values":[0,100,200,300,400,500,600],"format":"d","title":"AK (mg/g)"}},"y":{"datum":2.34,"type":"quantitative","scale":{"domain":[-1,5],"reverse":true,"nice":false,"zero":false},"axis":{"values":[0,1,2,3,4,5],"labelExpr":"['0-10','10-20','20-40','40-60','60-80','80-100'][datum.value]","title":"Soil depth (cm)","labelOffset":-10}},"text":{"value":["RMSE=23.25","R²=0.998","a=1.002","b=18.511"]}}},
{"transform":[{"filter":"datum.s==='Saltmarsh' && datum.t==='Measured value' && datum.i===0"}],"mark":{"type":"text","align":"right","baseline":"middle","dx":3,"fontSize":22},"encoding":{"x":{"datum":650,"type":"quantitative","scale":{"domain":[0,650],"nice":false,"zero":false},"axis":{"orient":"top","values":[0,100,200,300,400,500,600],"format":"d","title":"AK (mg/g)"}},"y":{"datum":-0.4,"type":"quantitative","scale":{"domain":[-1,5],"reverse":true,"nice":false,"zero":false},"axis":{"values":[0,1,2,3,4,5],"labelExpr":"['0-10','10-20','20-40','40-60','60-80','80-100'][datum.value]","title":"Soil depth (cm)","labelOffset":-10}},"text":{"value":"(G)"}}}
]}
],
"config":{
"font":"Liberation Serif",
"view":{"stroke":null},
"mark":{"font":"Liberation Serif"},
"axis":{"domainColor":"#000000","domainWidth":2,"tickColor":"#000000","tickWidth":1.5,"tickSize":-4,"labelFont":"Liberation Serif","labelFontSize":22,"labelColor":"#000000","labelPadding":6,"titleFont":"Liberation Serif","titleFontSize":23,"titleFontWeight":"normal","titleColor":"#000000","titlePadding":3,"grid":false,"labelFlush":false,"labelOverlap":false},
"axisY":{"titlePadding":-3},
"legend":{"titleFont":"Liberation Serif","titleFontSize":23,"titleFontWeight":"normal","titleColor":"#000000","labelFont":"Liberation Serif","labelFontSize":23,"labelColor":"#000000","symbolSize":676,"symbolStrokeWidth":2.5,"rowPadding":0,"titlePadding":3,"labelOffset":31},
"text":{"font":"Liberation Serif","fontSize":19.5,"color":"#000000"}
}
}
